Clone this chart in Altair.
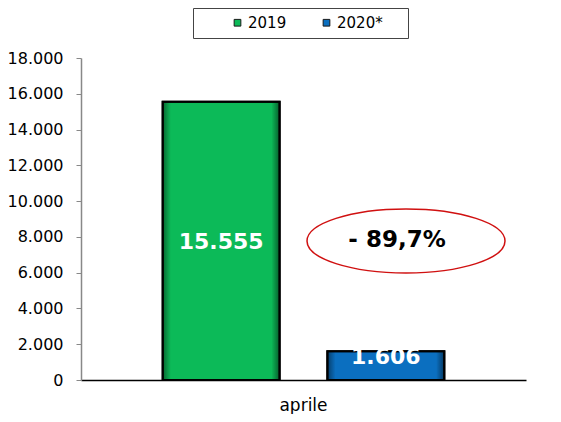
import altair as alt
import pandas as pd

months = ["aprile"]
years = ["2019", "2020*"]
values = [15555, 1606]
colors = ["#0cba58", "#0b6fc0"]
y_ticks = [0, 2000, 4000, 6000, 8000, 10000, 12000, 14000, 16000, 18000]

df = pd.DataFrame({"mese": months * len(years), "anno": years, "valore": values})

pct = (values[1] - values[0]) / values[0] * 100
pct_label = "- " + f"{abs(pct):.1f}".replace(".", ",") + "%"
ann = pd.DataFrame({"t": [pct_label]})

FONT = "DejaVu Sans"

x_enc = alt.X(
    "mese:N",
    scale=alt.Scale(paddingInner=0, paddingOuter=0.29),
    axis=alt.Axis(
        title=None, labelAngle=0, ticks=False, domainColor="#000000",
        domainWidth=1.5, labelFontSize=17, labelFont=FONT, labelColor="#000000",
        labelPadding=17,
    ),
)
xoff_enc = alt.XOffset("anno:N", sort=years, scale=alt.Scale(paddingInner=0.29, paddingOuter=0))
y_scale = alt.Scale(domain=[0, 18000], nice=False)
y_axis = alt.Axis(
    title=None, values=y_ticks, grid=False, domainColor="#888888", domainWidth=1.5,
    tickColor="#888888", tickSize=5, labelFontSize=16, labelFont=FONT,
    labelColor="#000000", labelPadding=13, labelOverlap=False, labelBound=False,
    labelExpr="replace(format(datum.value, ','), ',', '.')",
)
y_enc = alt.Y("valore:Q", scale=y_scale, axis=y_axis)
y_mid = alt.Y("mid:Q", scale=y_scale, axis=y_axis)

base = alt.Chart(df)

bars = base.mark_bar(stroke="#000000", strokeWidth=2).encode(
    x=x_enc, xOffset=xoff_enc, y=y_enc,
    color=alt.Color(
        "anno:N", sort=years,
        scale=alt.Scale(domain=years, range=colors),
        legend=alt.Legend(
            title="\u00a0", titleOrient="right", titlePadding=18, titleFontSize=15,
            orient="none", legendX=112, legendY=-50, direction="horizontal",
            symbolType="square", symbolSize=45, symbolStrokeColor="#1a1a1a",
            symbolStrokeWidth=1, labelFontSize=15, labelFont=FONT, labelColor="#000000",
            padding=7, strokeColor="#444444", fillColor="#ffffff",
            symbolOffset=30, columnPadding=2, labelOffset=3,
        ),
    ),
)

shade = base.mark_bar(
    fill=alt.LinearGradient(
        gradient="linear", x1=0, x2=1, y1=0, y2=0,
        stops=[
            alt.GradientStop(color="rgba(0,0,0,0.45)", offset=0),
            alt.GradientStop(color="rgba(0,0,0,0)", offset=0.07),
            alt.GradientStop(color="rgba(0,0,0,0)", offset=0.93),
            alt.GradientStop(color="rgba(0,0,0,0.5)", offset=1),
        ],
    ),
    stroke="#000000", strokeWidth=2,
).encode(x=x_enc, xOffset=xoff_enc, y=y_enc)

labels_text = base.transform_calculate(
    lbl="replace(format(datum.valore, ','), ',', '.')", mid="datum.valore / 2"
)
txt_green = labels_text.transform_filter(alt.datum.anno == years[0]).mark_text(
    font=FONT, fontSize=22, fontWeight="bold", color="#ffffff", baseline="middle", dy=1
).encode(x=x_enc, xOffset=xoff_enc, y=y_mid, text="lbl:N")
txt_blue = labels_text.transform_filter(alt.datum.anno == years[1]).mark_text(
    font=FONT, fontSize=22, fontWeight="bold", color="#ffffff", baseline="middle", dy=-9
).encode(x=x_enc, xOffset=xoff_enc, y=y_mid, text="lbl:N")

ellipse_path = "M -1 0 A 1 0.323 0 1 1 1 0 A 1 0.323 0 1 1 -1 0 Z"
ellipse = alt.Chart(ann).mark_point(
    shape=ellipse_path, size=39204, filled=False, stroke="#d01010", strokeWidth=1.5, opacity=1
).encode(x=alt.value(325), y=alt.value(183))
ann_text = alt.Chart(ann).mark_text(
    font=FONT, fontSize=23, fontWeight="bold", color="#000000", baseline="middle"
).encode(x=alt.value(316), y=alt.value(182), text="t:N")

chart = alt.layer(bars, shade, txt_green, txt_blue, ellipse, ann_text).properties(
    width=445, height=322,
    background="#ffffff",
    autosize=alt.AutoSizeParams(type="none"),
    padding={"left": 73, "top": 50, "right": 27, "bottom": 34},
).configure_view(strokeWidth=0, stroke=None)

chart.save("out.html", embed_options={"renderer": "svg", "actions": False})
